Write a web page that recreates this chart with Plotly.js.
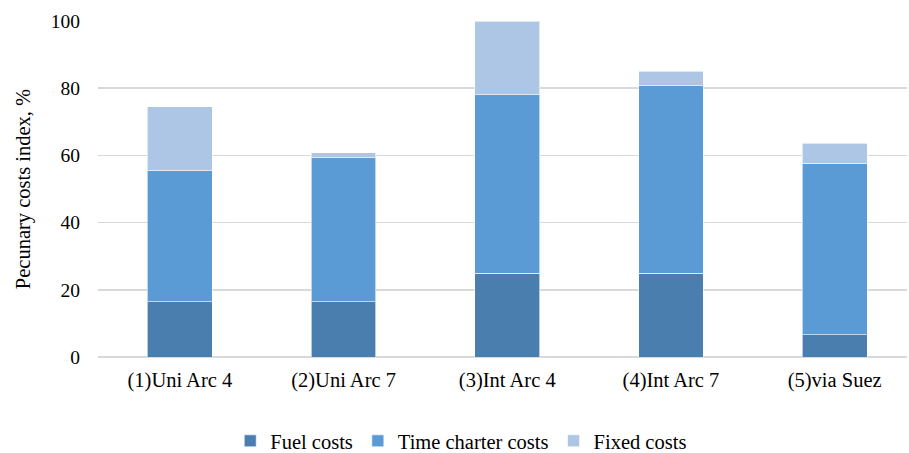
<!DOCTYPE html>
<html>
<head>
<meta charset="utf-8">
<script src="https://cdn.plot.ly/plotly-3.0.1.min.js"></script>
<style>html,body{margin:0;padding:0;background:#fff;}#chart{width:909px;height:453px;}</style>
</head>
<body>
<div id="chart"></div>
<script>
const categories = ["(1)Uni Arc 4", "(2)Uni Arc 7", "(3)Int Arc 4", "(4)Int Arc 7", "(5)via Suez"];
const fuelCosts = [16.4, 16.4, 24.9, 24.9, 6.6];
const timeCharterCosts = [39.0, 42.9, 53.2, 55.9, 51.1];
const fixedCosts = [19.1, 1.5, 21.9, 4.3, 5.9];
const yTicks = [0, 20, 40, 60, 80, 100];

const fam = "Liberation Serif, Times New Roman, serif";
const font = {family: fam, size: 20.5, color: "#000"};
const yfont = {family: fam, size: 19.5, color: "#000"};
const edge = {color: "rgba(255,255,255,0.6)", width: 1};

const data = [
  {type: "bar", name: "Fuel costs", x: categories, y: fuelCosts, marker: {color: "#4a7eaf", line: edge}},
  {type: "bar", name: "Time charter costs", x: categories, y: timeCharterCosts, marker: {color: "#5b9bd5", line: edge}},
  {type: "bar", name: "Fixed costs", x: categories, y: fixedCosts, marker: {color: "#aec6e6", line: edge}}
];

const layout = {
  width: 909, height: 453,
  margin: {l: 98, r: 2, t: 21, b: 96, autoexpand: false},
  barmode: "stack",
  bargap: 0.604,
  paper_bgcolor: "#fff",
  plot_bgcolor: "#fff",
  font: font,
  showlegend: true,
  legend: {orientation: "h", x: 0.449, xanchor: "center", xref: "paper",
           y: 12 / 453, yref: "container", yanchor: "middle",
           font: font, traceorder: "normal", itemwidth: 30},
  xaxis: {range: [-0.5, 4.442], showgrid: false, zeroline: false, showline: false,
          ticks: "", tickfont: font, ticklabelstandoff: 8, automargin: false, fixedrange: true},
  yaxis: {range: [0, 100], tickvals: yTicks, ticktext: yTicks.map(String),
          showgrid: true, gridcolor: "#d9d9d9", gridwidth: 1.5,
          zeroline: true, zerolinecolor: "#d9d9d9", zerolinewidth: 1.5,
          showline: false, ticks: "", ticklabelstandoff: 17, tickfont: yfont, automargin: false,
          title: {text: "Pecunary costs index, %", font: {family: fam, size: 20.5, color: "#000"}, standoff: 14}}
};

Plotly.newPlot("chart", data, layout, {displayModeBar: false, staticPlot: true});
</script>
</body>
</html>
